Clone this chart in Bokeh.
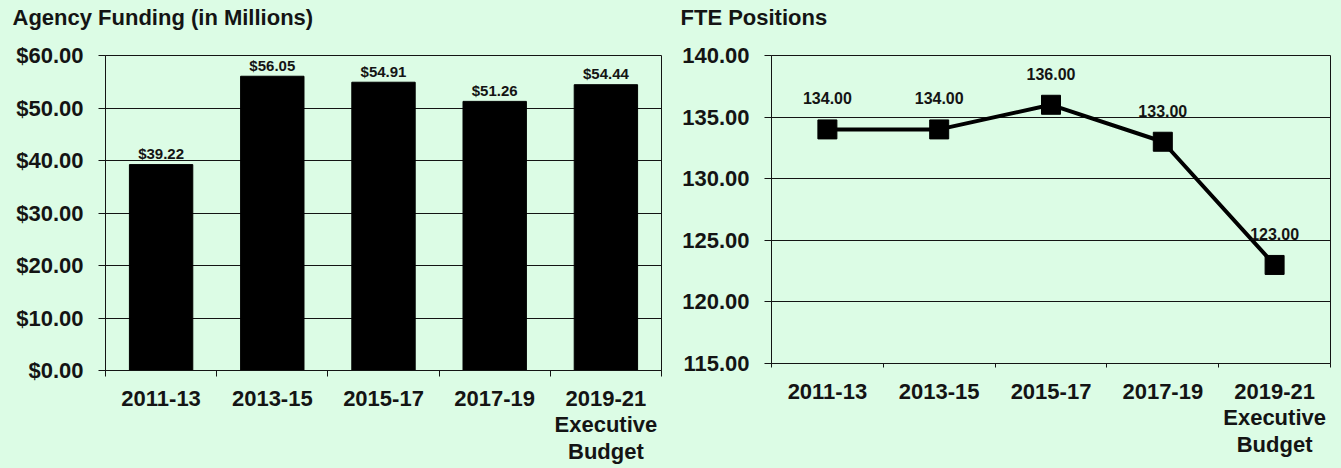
from bokeh.plotting import figure
from bokeh.layouts import row
from bokeh.models import Range1d, FixedTicker, NumeralTickFormatter, ColumnDataSource
from bokeh.embed import file_html
from bokeh.resources import INLINE

# ---- data ----
periods = ["2011-13", "2013-15", "2015-17", "2017-19", "2019-21\nExecutive\nBudget"]
funding = [39.22, 56.05, 54.91, 51.26, 54.44]
fte = [134.00, 134.00, 136.00, 133.00, 123.00]
funding_ticks = [0, 10, 20, 30, 40, 50, 60]
fte_ticks = [115, 120, 125, 130, 135, 140]
titles = ["Agency Funding (in Millions)", "FTE Positions"]

BG = "#DCFCE5"
INK = "#141414"
FONT = "Liberation Sans"

centers = [i + 0.5 for i in range(len(periods))]
bounds = list(range(len(periods) + 1))

def style(p, yticks, fmt, tick_out, label_standoff, line_h):
    p.background_fill_color = BG
    p.border_fill_color = BG
    p.outline_line_color = INK
    p.outline_line_width = 1
    p.xgrid.grid_line_color = None
    p.ygrid.grid_line_color = INK
    p.ygrid.grid_line_width = 1
    p.ygrid.ticker = FixedTicker(ticks=yticks)
    # x axis: labels at category centres, tick marks at category boundaries
    xa = p.xaxis[0]
    xa.ticker = FixedTicker(ticks=centers, minor_ticks=bounds)
    xa.major_label_overrides = {c: t for c, t in zip(centers, periods)}
    xa.major_tick_line_color = None
    xa.major_tick_out = tick_out
    xa.major_tick_in = 0
    xa.minor_tick_line_color = INK
    xa.minor_tick_out = tick_out
    xa.minor_tick_in = 0
    xa.axis_line_color = INK
    xa.axis_label_standoff = 0
    xa.major_label_standoff = label_standoff
    xa.major_label_text_font = FONT
    xa.major_label_text_font_style = "bold"
    xa.major_label_text_font_size = "22px"
    xa.major_label_text_line_height = line_h
    xa.major_label_text_color = INK
    xa.major_label_text_align = "center"
    ya = p.yaxis[0]
    ya.ticker = FixedTicker(ticks=yticks)
    ya.formatter = NumeralTickFormatter(format=fmt)
    ya.major_tick_out = 7
    ya.major_tick_in = 0
    ya.minor_tick_line_color = None
    ya.major_tick_line_color = INK
    ya.axis_line_color = INK
    ya.major_label_standoff = 15
    ya.major_label_text_font = FONT
    ya.major_label_text_font_style = "bold"
    ya.major_label_text_font_size = "22px"
    ya.major_label_text_color = INK
    p.title.text_font = FONT
    p.title.text_font_style = "bold"
    p.title.text_font_size = "22px"
    p.title.text_color = INK
    p.title.align = "left"
    try:
        p.title.padding = dict(top=0, right=0, bottom=26, left=0)
        p.title.standoff = 0
    except Exception:
        p.title.vertical_align = "top"
        p.title.standoff = 19

# ---- left: agency funding ----
src1 = ColumnDataSource(dict(x=centers, top=funding,
                             lbl=["${:.2f}".format(v) for v in funding]))
p1 = figure(frame_width=556, frame_height=315, output_backend="svg", toolbar_location=None,
            x_range=Range1d(0, len(periods)), y_range=Range1d(funding_ticks[0], funding_ticks[-1]),
            title=titles[0],
            min_border_left=105, min_border_right=7, min_border_top=55, min_border_bottom=90)
style(p1, funding_ticks, "$0.00", 6, 9, 1.06)
p1.title.offset = -93
p1.vbar(x="x", top="top", width=0.57, source=src1, fill_color="#000000", line_color="#000000")
p1.text(x="x", y="top", text="lbl", source=src1, text_align="center",
        text_baseline="alphabetic", y_offset=-11, text_font_size="15px",
        text_font_style="bold", text_color=INK, text_font={"value": FONT})

# ---- right: FTE positions ----
src2 = ColumnDataSource(dict(x=centers, y=fte, lbl=["{:.2f}".format(v) for v in fte]))
p2 = figure(frame_width=559, frame_height=308, output_backend="svg", toolbar_location=None,
            x_range=Range1d(0, len(periods)), y_range=Range1d(fte_ticks[0], fte_ticks[-1]),
            title=titles[1],
            min_border_left=103, min_border_right=11, min_border_top=55, min_border_bottom=97)
style(p2, fte_ticks, "0.00", 4, 11, 1.06)
p2.title.offset = -91
p2.line(x="x", y="y", source=src2, line_color="#000000", line_width=4)
p2.scatter(x="x", y="y", source=src2, marker="square", size=19,
           fill_color="#000000", line_color="#000000")
p2.text(x="x", y="y", text="lbl", source=src2, text_align="center",
        text_baseline="alphabetic", y_offset=-31, text_font_size="16px",
        text_font_style="bold", text_color=INK, text_font={"value": FONT})

layout = row(p1, p2)
html = file_html(layout, INLINE)
html = html.replace("<head>", "<head><style>html,body{background:%s;overflow:hidden;}</style>" % BG, 1)
open("out.html", "w").write(html)
